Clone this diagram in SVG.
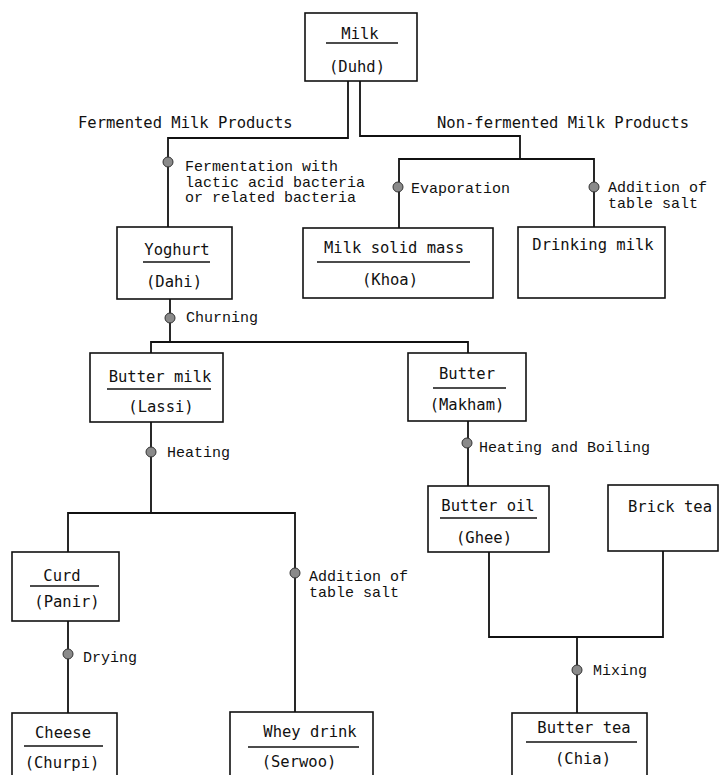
<svg xmlns="http://www.w3.org/2000/svg" width="720" height="775" viewBox="0 0 720 775">
<style>
.box{fill:#fff;stroke:#111;stroke-width:1.6}
.ln{fill:none;stroke:#111;stroke-width:1.8}
.ul{stroke:#111;stroke-width:1.4}
.t{font-family:"DejaVu Sans Mono","Liberation Mono",monospace;font-size:15.5px;fill:#111}
.c{text-anchor:middle}
.p{font-family:"Liberation Mono","Courier New",monospace;font-size:15px;fill:#111}
.dot{fill:#8a8a8a;stroke:#333;stroke-width:1}
</style>
<rect width="720" height="775" fill="#fff"/>
<g id="connectors">
<path class="ln" d="M348 81 V138 H168 V227"/>
<path class="ln" d="M360 81 V136 H520 V159"/>
<path class="ln" d="M399 228 V159 H594 V227"/>
<path class="ln" d="M170 299 V342"/>
<path class="ln" d="M151 353 V342 H468 V353"/>
<path class="ln" d="M151 422 V513"/>
<path class="ln" d="M68 552 V513 H295 V712"/>
<path class="ln" d="M68 621 V713"/>
<path class="ln" d="M468 421 V486"/>
<path class="ln" d="M489 552 V637 H663 V551"/>
<path class="ln" d="M577 637 V713"/>
</g>
<g id="labels">
<text class="t" x="78" y="128">Fermented Milk Products</text>
<text class="t" x="437" y="128">Non-fermented Milk Products</text>
</g>
<g id="step-fermentation">
<circle class="dot" cx="168" cy="162" r="5"/>
<text class="p" x="185" y="171">Fermentation with</text>
<text class="p" x="185" y="186.5">lactic acid bacteria</text>
<text class="p" x="185" y="202">or related bacteria</text>
</g>
<g id="step-evaporation">
<circle class="dot" cx="398" cy="187" r="5"/>
<text class="p" x="411" y="193">Evaporation</text>
</g>
<g id="step-salt1">
<circle class="dot" cx="594" cy="187" r="5"/>
<text class="p" x="608" y="192">Addition of</text>
<text class="p" x="608" y="207.5">table salt</text>
</g>
<g id="step-churning">
<circle class="dot" cx="170" cy="318" r="5"/>
<text class="p" x="186" y="322">Churning</text>
</g>
<g id="step-heating">
<circle class="dot" cx="151" cy="452" r="5"/>
<text class="p" x="167" y="457">Heating</text>
</g>
<g id="step-heatboil">
<circle class="dot" cx="467" cy="443" r="5"/>
<text class="p" x="479" y="452">Heating and Boiling</text>
</g>
<g id="step-salt2">
<circle class="dot" cx="295" cy="573" r="5"/>
<text class="p" x="309" y="581">Addition of</text>
<text class="p" x="309" y="596.5">table salt</text>
</g>
<g id="step-drying">
<circle class="dot" cx="68" cy="654" r="5"/>
<text class="p" x="83" y="662">Drying</text>
</g>
<g id="step-mixing">
<circle class="dot" cx="577" cy="670" r="5"/>
<text class="p" x="593" y="675">Mixing</text>
</g>
<g id="milk">
<rect class="box" x="305" y="13" width="112" height="68"/>
<text class="t c" x="360" y="39">Milk</text>
<line class="ul" x1="326" y1="43" x2="398" y2="43"/>
<text class="t c" x="357" y="72">(Duhd)</text>
</g>
<g id="yoghurt">
<rect class="box" x="117" y="227" width="115" height="72"/>
<text class="t c" x="177" y="255">Yoghurt</text>
<line class="ul" x1="143" y1="262" x2="210" y2="262"/>
<text class="t c" x="174" y="287">(Dahi)</text>
</g>
<g id="khoa">
<rect class="box" x="303" y="228" width="190" height="70"/>
<text class="t c" x="394" y="253">Milk solid mass</text>
<line class="ul" x1="317" y1="262" x2="470" y2="262"/>
<text class="t c" x="390" y="285">(Khoa)</text>
</g>
<g id="drinking-milk">
<rect class="box" x="518" y="227" width="147" height="71"/>
<text class="t c" x="593" y="250">Drinking milk</text>
</g>
<g id="butter-milk">
<rect class="box" x="90" y="353" width="133" height="69"/>
<text class="t c" x="160" y="382">Butter milk</text>
<line class="ul" x1="107" y1="389" x2="211" y2="389"/>
<text class="t c" x="161" y="412">(Lassi)</text>
</g>
<g id="butter">
<rect class="box" x="408" y="353" width="118" height="68"/>
<text class="t c" x="467" y="379">Butter</text>
<line class="ul" x1="433" y1="388" x2="506" y2="388"/>
<text class="t c" x="467" y="410">(Makham)</text>
</g>
<g id="butter-oil">
<rect class="box" x="428" y="486" width="121" height="66"/>
<text class="t c" x="488" y="511">Butter oil</text>
<line class="ul" x1="440" y1="518" x2="537" y2="518"/>
<text class="t c" x="484" y="543">(Ghee)</text>
</g>
<g id="brick-tea">
<rect class="box" x="608" y="485" width="110" height="66"/>
<text class="t c" x="670" y="512">Brick tea</text>
</g>
<g id="curd">
<rect class="box" x="12" y="552" width="107" height="69"/>
<text class="t c" x="62" y="581">Curd</text>
<line class="ul" x1="30" y1="586" x2="99" y2="586"/>
<text class="t c" x="67" y="607">(Panir)</text>
</g>
<g id="cheese">
<rect class="box" x="12" y="713" width="105" height="70"/>
<text class="t c" x="63" y="738">Cheese</text>
<line class="ul" x1="24" y1="746" x2="103" y2="746"/>
<text class="t c" x="62" y="768">(Churpi)</text>
</g>
<g id="whey-drink">
<rect class="box" x="230" y="712" width="143" height="70"/>
<text class="t c" x="310" y="737">Whey drink</text>
<line class="ul" x1="248" y1="747" x2="359" y2="747"/>
<text class="t c" x="299" y="767">(Serwoo)</text>
</g>
<g id="butter-tea">
<rect class="box" x="512" y="713" width="135" height="70"/>
<text class="t c" x="584" y="733">Butter tea</text>
<line class="ul" x1="526" y1="742" x2="637" y2="742"/>
<text class="t c" x="583" y="764">(Chia)</text>
</g>
</svg>
